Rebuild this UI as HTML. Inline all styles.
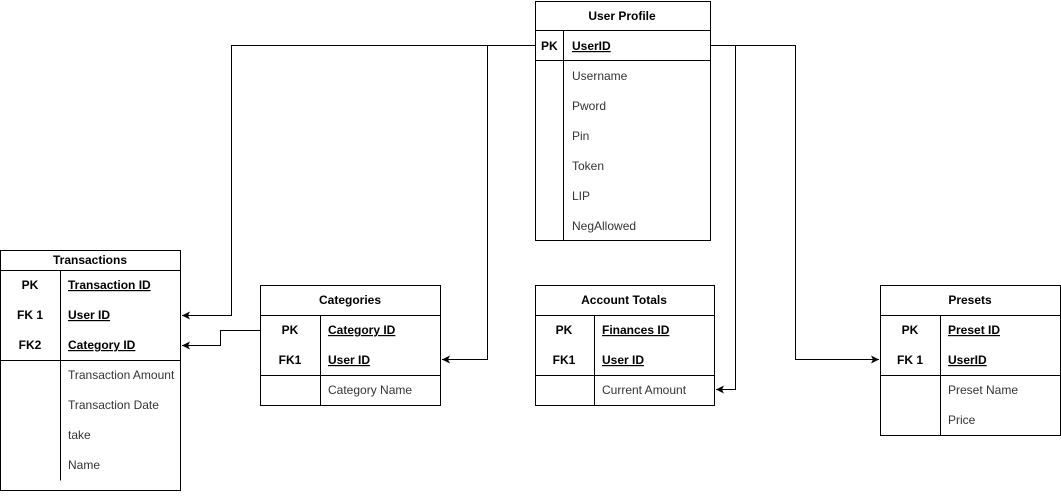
<!DOCTYPE html>
<html><head><meta charset="utf-8"><style>
html,body{margin:0;padding:0;background:#fff;}
svg text{font-family:"Liberation Sans",Arial,sans-serif;font-size:12px;fill:#000;}
.b{font-weight:bold;}
.u{text-decoration:underline;}
.g{fill:#333;}
</style></head><body>
<svg width="1061" height="491" viewBox="0 0 1061 491" xmlns="http://www.w3.org/2000/svg">
<defs><marker id="a" markerWidth="10" markerHeight="10" refX="8" refY="4" orient="auto" markerUnits="userSpaceOnUse"><path d="M0,0 L8,4 L0,8 L2,4 Z" fill="#000"/></marker></defs>
<g fill="none" stroke="#000" stroke-width="1">
<!-- connectors -->
<path d="M535.5,45.5 H231.5 V315.5 H182" marker-end="url(#a)"/>
<path d="M535.5,45.5 H487.5 V359.5 H442" marker-end="url(#a)"/>
<path d="M710.5,45.5 H735.5 V389.5 H716" marker-end="url(#a)"/>
<path d="M710.5,45.5 H795.5 V359.5 H879" marker-end="url(#a)"/>
<path d="M261.5,330.5 H220.5 V345.5 H182" marker-end="url(#a)"/>
<!-- User Profile -->
<rect x="535.5" y="1.5" width="175" height="239" fill="#fff"/>
<path d="M535.5,30.5 H710.5 M535.5,60.5 H710.5 M563.5,30.5 V240.5"/>
<!-- Transactions -->
<rect x="0.5" y="250.5" width="180" height="240" fill="#fff"/>
<path d="M0.5,270.5 H180.5 M0.5,360.5 H180.5 M60.5,270.5 V480.5"/>
<!-- Categories -->
<rect x="260.5" y="285.5" width="180" height="120" fill="#fff"/>
<path d="M260.5,315.5 H440.5 M260.5,375.5 H440.5 M320.5,315.5 V405.5"/>
<!-- Account Totals -->
<rect x="535.5" y="285.5" width="179" height="120" fill="#fff"/>
<path d="M535.5,315.5 H714.5 M535.5,375.5 H714.5 M594.5,315.5 V405.5"/>
<!-- Presets -->
<rect x="880.5" y="285.5" width="180" height="150" fill="#fff"/>
<path d="M880.5,315.5 H1060.5 M880.5,375.5 H1060.5 M940.5,315.5 V435.5"/>
</g>
<!-- User Profile text -->
<text x="622" y="20" class="b" text-anchor="middle">User Profile</text>
<text x="541" y="50" class="b">PK</text>
<text x="572" y="50" class="b u">UserID</text>
<text x="572" y="80" class="g">Username</text>
<text x="572" y="110" class="g">Pword</text>
<text x="572" y="140" class="g">Pin</text>
<text x="572" y="170" class="g">Token</text>
<text x="572" y="200" class="g">LIP</text>
<text x="572" y="230" class="g">NegAllowed</text>
<!-- Transactions -->
<text x="90" y="264" class="b" text-anchor="middle">Transactions</text>
<text x="30" y="289" class="b" text-anchor="middle">PK</text>
<text x="68" y="289" class="b u">Transaction ID</text>
<text x="30" y="319" class="b" text-anchor="middle">FK 1</text>
<text x="68" y="319" class="b u">User ID</text>
<text x="30" y="349" class="b" text-anchor="middle">FK2</text>
<text x="68" y="349" class="b u">Category ID</text>
<text x="68" y="379" class="g">Transaction Amount</text>
<text x="68" y="409" class="g">Transaction Date</text>
<text x="68" y="439" class="g">take</text>
<text x="68" y="469" class="g">Name</text>
<!-- Categories -->
<text x="350" y="304" class="b" text-anchor="middle">Categories</text>
<text x="290" y="334" class="b" text-anchor="middle">PK</text>
<text x="328" y="334" class="b u">Category ID</text>
<text x="290" y="364" class="b" text-anchor="middle">FK1</text>
<text x="328" y="364" class="b u">User ID</text>
<text x="328" y="394" class="g">Category Name</text>
<!-- Account Totals -->
<text x="624" y="304" class="b" text-anchor="middle">Account Totals</text>
<text x="564" y="334" class="b" text-anchor="middle">PK</text>
<text x="602" y="334" class="b u">Finances ID</text>
<text x="564" y="364" class="b" text-anchor="middle">FK1</text>
<text x="602" y="364" class="b u">User ID</text>
<text x="602" y="394" class="g">Current Amount</text>
<!-- Presets -->
<text x="970" y="304" class="b" text-anchor="middle">Presets</text>
<text x="910" y="334" class="b" text-anchor="middle">PK</text>
<text x="948" y="334" class="b u">Preset ID</text>
<text x="910" y="364" class="b" text-anchor="middle">FK 1</text>
<text x="948" y="364" class="b u">UserID</text>
<text x="948" y="394" class="g">Preset Name</text>
<text x="948" y="424" class="g">Price</text>
</svg>
</body></html>
